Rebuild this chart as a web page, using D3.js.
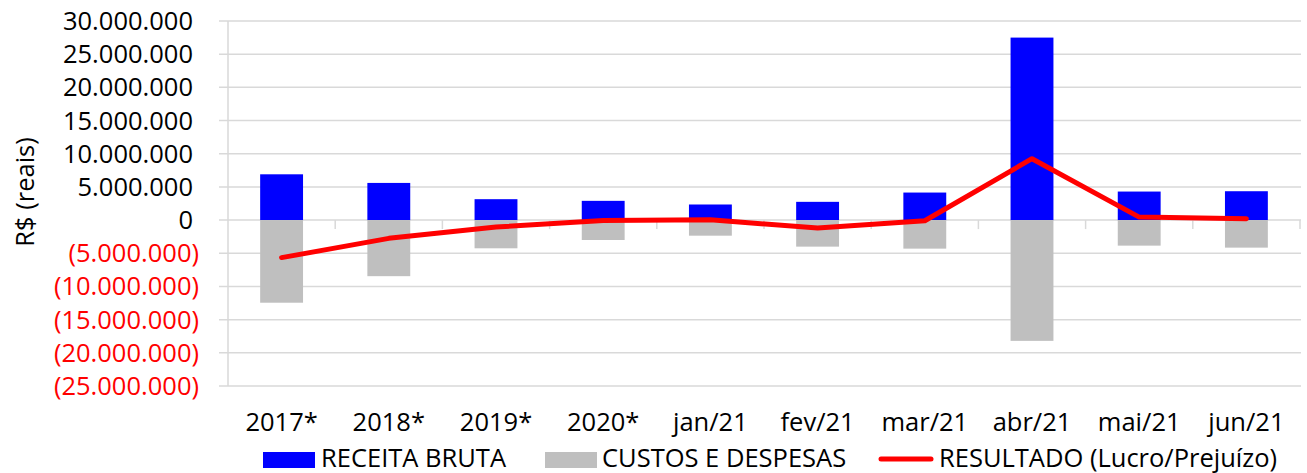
<!DOCTYPE html>
<html>
<head>
<meta charset="utf-8">
<script src="https://cdn.jsdelivr.net/npm/d3@7"></script>
<style>
  html, body { margin: 0; padding: 0; background: #fff; }
  svg { display: block; }
  text { font-family: "Open Sans", "DejaVu Sans", sans-serif; }
</style>
</head>
<body>
<svg id="chart" width="1307" height="473"></svg>
<script>
// ---- data ----
const categories = ["2017*", "2018*", "2019*", "2020*", "jan/21", "fev/21", "mar/21", "abr/21", "mai/21", "jun/21"];
const receitaBruta = [6900000, 5600000, 3150000, 2900000, 2350000, 2750000, 4150000, 27500000, 4300000, 4350000];
const custosDespesas = [-12450000, -8450000, -4250000, -3000000, -2350000, -4000000, -4300000, -18200000, -3850000, -4150000];
const resultado = [-5650000, -2750000, -1050000, -50000, 50000, -1200000, -100000, 9250000, 450000, 200000];
const yTicks = [30000000, 25000000, 20000000, 15000000, 10000000, 5000000, 0, -5000000, -10000000, -15000000, -20000000, -25000000];
const seriesNames = ["RECEITA BRUTA", "CUSTOS E DESPESAS", "RESULTADO (Lucro/Prejuízo)"];
const yTitle = "R$ (reais)";

// ---- layout ----
const svg = d3.select("#chart");
const plotLeft = 228, plotRight = 1300, plotTop = 21, plotBottom = 386;
const gridColor = "#d9d9d9";
const fs = 25.5;

const x = d3.scaleBand().domain(categories).range([plotLeft, plotRight]).paddingInner(0.6).paddingOuter(0.3);
const y = d3.scaleLinear().domain([-25000000, 30000000]).range([plotBottom, plotTop]);

const fmt = v => {
  const s = d3.format(",")(Math.abs(v)).replace(/,/g, ".");
  return v < 0 ? "(" + s + ")" : s;
};

// gridlines (with outside tick marks on the left)
svg.append("g").selectAll("line").data(yTicks).join("line")
  .attr("x1", 219).attr("x2", 1301)
  .attr("y1", d => y(d)).attr("y2", d => y(d))
  .attr("stroke", gridColor).attr("stroke-width", 1.5);

// vertical axis line
svg.append("line").attr("x1", plotLeft).attr("x2", plotLeft)
  .attr("y1", plotTop).attr("y2", plotBottom)
  .attr("stroke", gridColor).attr("stroke-width", 1.5);

// category tick marks on the zero line
const step = x.step();
svg.append("g").selectAll("line").data(d3.range(1, categories.length + 1)).join("line")
  .attr("x1", i => plotLeft + i * step).attr("x2", i => plotLeft + i * step)
  .attr("y1", y(0)).attr("y2", y(0) + 9)
  .attr("stroke", gridColor).attr("stroke-width", 1.5);

// y tick labels
svg.append("g").selectAll("text").data(yTicks).join("text")
  .attr("x", d => d < 0 ? 199 : 193)
  .attr("y", d => y(d) + 9)
  .attr("text-anchor", "end")
  .attr("font-size", fs)
  .attr("fill", d => d < 0 ? "#ff0000" : "#000")
  .text(fmt);

// y title
svg.append("text")
  .attr("transform", "translate(34,192) rotate(-90)")
  .attr("text-anchor", "middle")
  .attr("font-size", fs)
  .attr("fill", "#000")
  .text(yTitle);

// bars
svg.append("g").selectAll("rect").data(categories).join("rect")
  .attr("x", d => x(d)).attr("width", x.bandwidth())
  .attr("y", (d, i) => y(receitaBruta[i]))
  .attr("height", (d, i) => y(0) - y(receitaBruta[i]))
  .attr("fill", "#0000ff");

svg.append("g").selectAll("rect").data(categories).join("rect")
  .attr("x", d => x(d)).attr("width", x.bandwidth())
  .attr("y", y(0))
  .attr("height", (d, i) => y(custosDespesas[i]) - y(0))
  .attr("fill", "#bfbfbf");

// line
const line = d3.line()
  .x((d, i) => x(categories[i]) + x.bandwidth() / 2)
  .y(d => y(d));
svg.append("path").datum(resultado)
  .attr("d", line)
  .attr("fill", "none")
  .attr("stroke", "#ff0000")
  .attr("stroke-width", 5)
  .attr("stroke-linecap", "round")
  .attr("stroke-linejoin", "round");

// x labels
svg.append("g").selectAll("text").data(categories).join("text")
  .attr("x", d => x(d) + x.bandwidth() / 2)
  .attr("y", 431)
  .attr("text-anchor", "middle")
  .attr("font-size", fs)
  .attr("fill", "#000")
  .text(d => d);

// legend
const lg = svg.append("g");
lg.append("rect").attr("x", 263).attr("y", 452).attr("width", 52).attr("height", 16).attr("fill", "#0000ff");
lg.append("text").attr("x", 321).attr("y", 467).attr("font-size", fs).text(seriesNames[0]);
lg.append("rect").attr("x", 545).attr("y", 452).attr("width", 52).attr("height", 16).attr("fill", "#bfbfbf");
lg.append("text").attr("x", 602).attr("y", 467).attr("font-size", fs).text(seriesNames[1]);
lg.append("line").attr("x1", 881).attr("x2", 931).attr("y1", 459).attr("y2", 459)
  .attr("stroke", "#ff0000").attr("stroke-width", 5).attr("stroke-linecap", "round");
lg.append("text").attr("x", 939).attr("y", 467).attr("font-size", fs).text(seriesNames[2]);
</script>
</body>
</html>
